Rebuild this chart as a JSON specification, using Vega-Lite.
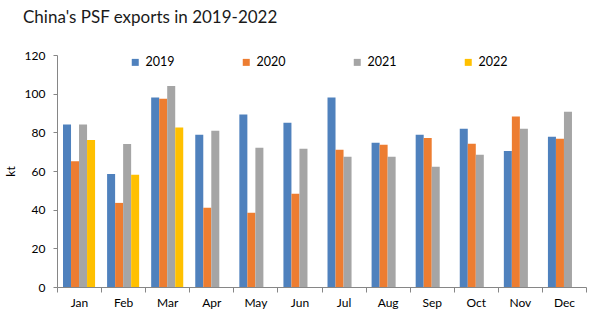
{
  "$schema": "https://vega.github.io/schema/vega-lite/v6.json",
  "width": 529,
  "height": 232,
  "autosize": {"type": "none"},
  "padding": {"left": 57, "top": 55, "right": 28, "bottom": 41},
  "background": "white",
  "title": {
    "text": "China's PSF exports in 2019-2022",
    "anchor": "start",
    "frame": "group",
    "dx": -34,
    "offset": 22,
    "font": "Lato",
    "fontSize": 17,
    "fontWeight": "normal",
    "color": "#1a1a1a"
  },
  "config": {
    "view": {"stroke": null},
    "font": "Lato"
  },
  "data": {
    "values": [
      {"month": "Jan", "year": "2019", "kt": 84},
      {"month": "Jan", "year": "2020", "kt": 65},
      {"month": "Jan", "year": "2021", "kt": 84},
      {"month": "Jan", "year": "2022", "kt": 76},
      {"month": "Feb", "year": "2019", "kt": 58.5},
      {"month": "Feb", "year": "2020", "kt": 43.5},
      {"month": "Feb", "year": "2021", "kt": 74},
      {"month": "Feb", "year": "2022", "kt": 58},
      {"month": "Mar", "year": "2019", "kt": 98},
      {"month": "Mar", "year": "2020", "kt": 97.4},
      {"month": "Mar", "year": "2021", "kt": 104},
      {"month": "Mar", "year": "2022", "kt": 82.5},
      {"month": "Apr", "year": "2019", "kt": 78.7},
      {"month": "Apr", "year": "2020", "kt": 41},
      {"month": "Apr", "year": "2021", "kt": 80.8},
      {"month": "May", "year": "2019", "kt": 89.2},
      {"month": "May", "year": "2020", "kt": 38.4},
      {"month": "May", "year": "2021", "kt": 72},
      {"month": "Jun", "year": "2019", "kt": 85},
      {"month": "Jun", "year": "2020", "kt": 48.2},
      {"month": "Jun", "year": "2021", "kt": 71.5},
      {"month": "Jul", "year": "2019", "kt": 98},
      {"month": "Jul", "year": "2020", "kt": 71},
      {"month": "Jul", "year": "2021", "kt": 67.4},
      {"month": "Aug", "year": "2019", "kt": 74.6},
      {"month": "Aug", "year": "2020", "kt": 73.6},
      {"month": "Aug", "year": "2021", "kt": 67.4},
      {"month": "Sep", "year": "2019", "kt": 78.7},
      {"month": "Sep", "year": "2020", "kt": 77.1},
      {"month": "Sep", "year": "2021", "kt": 62.2},
      {"month": "Oct", "year": "2019", "kt": 81.8},
      {"month": "Oct", "year": "2020", "kt": 74.1},
      {"month": "Oct", "year": "2021", "kt": 68.4},
      {"month": "Nov", "year": "2019", "kt": 70.4},
      {"month": "Nov", "year": "2020", "kt": 88.2},
      {"month": "Nov", "year": "2021", "kt": 81.8},
      {"month": "Dec", "year": "2019", "kt": 77.7},
      {"month": "Dec", "year": "2020", "kt": 76.7},
      {"month": "Dec", "year": "2021", "kt": 90.6}
    ]
  },
  "mark": {"type": "bar"},
  "encoding": {
    "x": {
      "field": "month",
      "type": "nominal",
      "sort": ["Jan","Feb","Mar","Apr","May","Jun","Jul","Aug","Sep","Oct","Nov","Dec"],
      "scale": {"paddingInner": 0, "paddingOuter": 0},
      "axis": {
        "title": null,
        "labelAngle": 0,
        "tickBand": "extent",
        "tickSize": 5,
        "tickColor": "#868686",
        "domainColor": "#868686",
        "labelPadding": 5,
        "labelFontSize": 12,
        "labelColor": "#000000",
        "labelFont": "Lato"
      }
    },
    "xOffset": {
      "field": "year",
      "type": "nominal",
      "scale": {"domain": ["2019","2020","2021","2022"], "paddingInner": 0, "paddingOuter": 0.75}
    },
    "y": {
      "field": "kt",
      "type": "quantitative",
      "scale": {"domain": [0, 120], "nice": false},
      "axis": {
        "title": "kt",
        "values": [0,20,40,60,80,100,120],
        "grid": false,
        "tickSize": 4,
        "tickColor": "#868686",
        "domainColor": "#868686",
        "labelPadding": 8,
        "labelFontSize": 12,
        "labelColor": "#000000",
        "titleFontSize": 12,
        "titleFontWeight": "normal",
        "titleColor": "#000000",
        "titlePadding": 7
      }
    },
    "color": {
      "field": "year",
      "type": "nominal",
      "scale": {"domain": ["2019","2020","2021","2022"], "range": ["#4F81BD","#ED7D31","#A5A5A5","#FFC000"]},
      "legend": {
        "title": null,
        "orient": "none",
        "legendX": 72,
        "legendY": 1,
        "direction": "horizontal",
        "columns": 4,
        "columnPadding": 65,
        "symbolType": "square",
        "symbolSize": 49,
        "symbolStrokeWidth": 0,
        "labelFontSize": 12.5,
        "labelColor": "#000000",
        "labelOffset": 4
      }
    }
  }
}
